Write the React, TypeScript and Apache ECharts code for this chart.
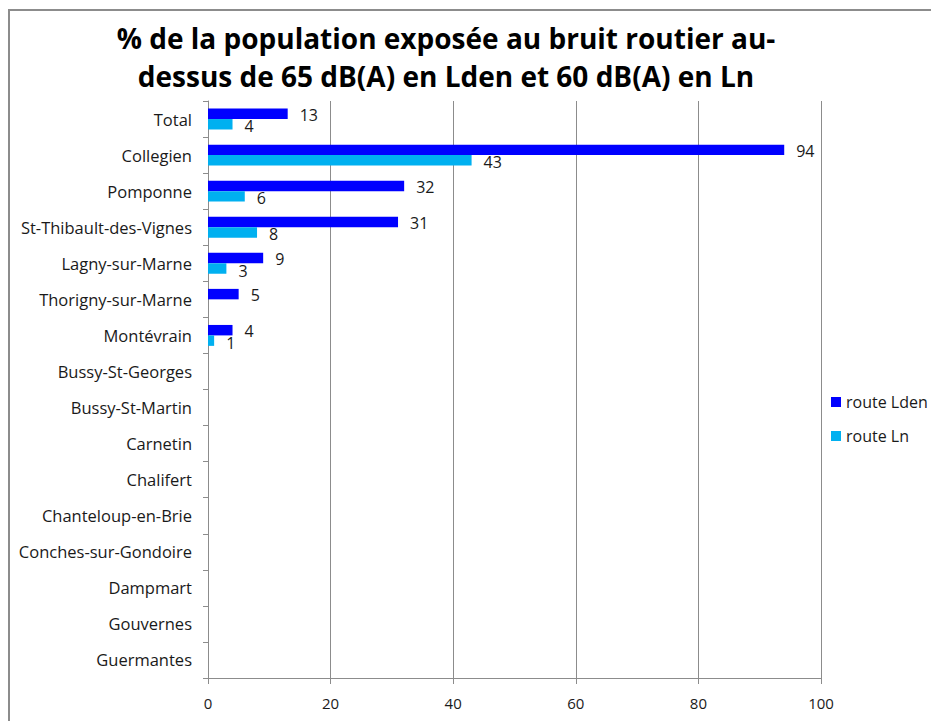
import React, { useEffect, useRef } from "react";
import * as echarts from "echarts";

const TITLE_LINES = [
  "% de la population exposée au bruit routier au-",
  "dessus de 65 dB(A) en Lden et 60 dB(A) en Ln",
];
const CATEGORIES = [
  "Total",
  "Collegien",
  "Pomponne",
  "St-Thibault-des-Vignes",
  "Lagny-sur-Marne",
  "Thorigny-sur-Marne",
  "Montévrain",
  "Bussy-St-Georges",
  "Bussy-St-Martin",
  "Carnetin",
  "Chalifert",
  "Chanteloup-en-Brie",
  "Conches-sur-Gondoire",
  "Dampmart",
  "Gouvernes",
  "Guermantes",
];
const LDEN: (number | null)[] = [13, 94, 32, 31, 9, 5, 4, null, null, null, null, null, null, null, null, null];
const LN: (number | null)[] = [4, 43, 6, 8, 3, null, 1, null, null, null, null, null, null, null, null, null];
const SERIES_NAMES = ["route Lden", "route Ln"];
const X_MIN = 0;
const X_MAX = 100;
const X_INTERVAL = 20;

const FONT = "'Open Sans', 'Noto Sans', sans-serif";

export default function App() {
  const ref = useRef<HTMLDivElement>(null);
  useEffect(() => {
    if (!ref.current) return;
    const chart = echarts.init(ref.current, null, { renderer: "svg" });
    const labelStyle = {
      show: true,
      position: "right" as const,
      distance: 12,
      color: "#1a1a1a",
      fontSize: 16,
      fontFamily: FONT,
    };
    chart.setOption({
      animation: false,
      backgroundColor: "#ffffff",
      title: {
        text: TITLE_LINES.join("\n"),
        left: 438,
        top: 11,
        padding: 0,
        textAlign: "center",
        textStyle: {
          fontFamily: FONT,
          fontWeight: "bold",
          fontSize: 28,
          lineHeight: 38,
          color: "#000000",
        },
      },
      legend: {
        orient: "vertical",
        left: 823,
        top: 386,
        padding: 0,
        itemWidth: 10,
        itemHeight: 10,
        itemGap: 18,
        icon: "rect",
        data: SERIES_NAMES,
        textStyle: { fontFamily: FONT, fontSize: 16, color: "#1a1a1a" },
      },
      grid: { left: 200, right: 118, top: 93, bottom: 43, containLabel: false },
      xAxis: {
        type: "value",
        min: X_MIN,
        max: X_MAX,
        interval: X_INTERVAL,
        axisLine: { show: true, lineStyle: { color: "#8c8c8c", width: 1 } },
        axisTick: { show: true, length: 6, lineStyle: { color: "#8c8c8c" } },
        axisLabel: { margin: 17, fontSize: 15, color: "#1a1a1a", fontFamily: FONT },
        splitLine: { show: true, lineStyle: { color: "#8c8c8c", width: 1 } },
      },
      yAxis: {
        type: "category",
        inverse: true,
        data: CATEGORIES,
        axisLine: { show: true, lineStyle: { color: "#8c8c8c", width: 1 } },
        axisTick: { show: true, length: 5, alignWithLabel: false, lineStyle: { color: "#8c8c8c" } },
        axisLabel: { margin: 16, fontSize: 16.5, color: "#1a1a1a", fontFamily: FONT },
        splitLine: { show: false },
      },
      series: [
        {
          name: SERIES_NAMES[0],
          type: "bar",
          data: LDEN,
          itemStyle: { color: "#0000ff" },
          barGap: "0%",
          barCategoryGap: "42%",
          label: { ...labelStyle, offset: [0, 1] },
        },
        {
          name: SERIES_NAMES[1],
          type: "bar",
          data: LN,
          itemStyle: { color: "#00b0f0" },
          barGap: "0%",
          barCategoryGap: "42%",
          label: { ...labelStyle, offset: [0, 2] },
        },
      ],
    });
    return () => chart.dispose();
  }, []);
  return (
    <div style={{ position: "relative", width: 931, height: 713, overflow: "hidden" }}>
      <div ref={ref} style={{ position: "absolute", left: 0, top: 0, width: 931, height: 713 }} />
      <div
        style={{
          position: "absolute",
          left: 0,
          top: 1,
          width: 960,
          height: 760,
          borderTop: "2px solid #8c8c8c",
          borderLeft: "2px solid #8c8c8c",
          pointerEvents: "none",
        }}
      />
    </div>
  );
}
